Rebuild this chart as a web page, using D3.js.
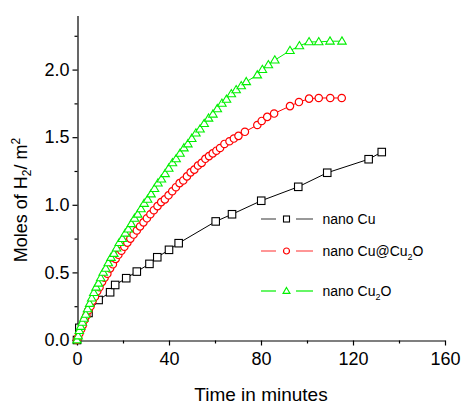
<!DOCTYPE html>
<html>
<head>
<meta charset="utf-8">
<script src="https://cdn.jsdelivr.net/npm/d3@7"></script>
<style>
  body { margin: 0; background: #fff; }
  svg { display: block; font-family: Arial, "Liberation Sans", sans-serif; }
</style>
</head>
<body>
<div id="body"></div>
<script>
// nano Cu (black squares)
var cuTime  = [0, 1, 5, 9.4, 14.4, 16.6, 21.4, 26, 31.5, 34.9, 40, 44.2, 60.3, 67.4, 80.1, 96.2, 108.8, 126.8, 132.5];
var cuMoles = [0, 0.09, 0.2, 0.296, 0.353, 0.407, 0.457, 0.506, 0.563, 0.612, 0.667, 0.716, 0.877, 0.93, 1.03, 1.133, 1.237, 1.337, 1.39];

// nano Cu@Cu2O (red circles)
var coreTime  = [0, 0.5, 1.1, 1.8, 2.5, 3.3, 4.1, 5, 5.9, 6.8, 7.8, 8.8, 9.8, 10.9, 12, 13.2, 14.4, 15.6, 16.8, 18,
  19.3, 20.6, 21.9, 23.2, 24.6, 26, 27.4, 28.9, 30.4, 31.9, 33.4, 35, 36.6, 38.2, 39.8, 41.4, 43, 44.6, 46.2, 47.8,
  49.4, 51, 52.6, 54.2, 55.8, 57.4, 59, 60.6, 62.2, 64.1, 66.3, 68.2, 70.2, 73, 78.4, 80.3, 82.7, 85.7, 92.6, 96.5,
  100.9, 105.1, 110.1, 115.1];
var coreMoles = [0, 0.02, 0.05, 0.08, 0.11, 0.15, 0.18, 0.22, 0.25, 0.29, 0.32, 0.36, 0.39, 0.43, 0.46, 0.49, 0.53, 0.56, 0.6, 0.63,
  0.66, 0.69, 0.72, 0.75, 0.78, 0.81, 0.84, 0.87, 0.9, 0.93, 0.96, 0.99, 1.02, 1.04, 1.07, 1.1, 1.13, 1.16, 1.18, 1.21,
  1.24, 1.26, 1.29, 1.31, 1.34, 1.36, 1.38, 1.4, 1.42, 1.45, 1.47, 1.49, 1.51, 1.54, 1.59, 1.62, 1.65, 1.675, 1.73, 1.76,
  1.785, 1.79, 1.79, 1.79];

// nano Cu2O (green triangles)
var oxTime  = [0, 0.5, 1, 1.6, 2.3, 3, 3.8, 4.6, 5.5, 6.4, 7.3, 8.3, 9.3, 10.3, 11.4, 12.5, 13.6, 14.8, 16, 17.2,
  18.4, 19.7, 21, 22.3, 23.6, 25, 26.4, 27.8, 29.2, 30.7, 32.2, 33.7, 35.2, 36.7, 38.3, 39.9, 41.5, 43.1, 44.8, 46.5,
  48.2, 49.9, 51.7, 53.5, 55.3, 57.2, 59.1, 61, 63, 65, 67.1, 69.2, 71.4, 73.6, 78.4, 80.6, 83.2, 86, 92.6, 96.7,
  100.9, 105.1, 110, 115.2];
var oxMoles = [0, 0.03, 0.07, 0.1, 0.13, 0.16, 0.19, 0.23, 0.27, 0.31, 0.35, 0.39, 0.42, 0.46, 0.5, 0.53, 0.57, 0.61, 0.64, 0.68,
  0.72, 0.75, 0.79, 0.82, 0.86, 0.9, 0.93, 0.97, 1.01, 1.04, 1.08, 1.12, 1.16, 1.19, 1.23, 1.27, 1.31, 1.34, 1.38, 1.42,
  1.45, 1.49, 1.53, 1.56, 1.6, 1.64, 1.67, 1.71, 1.75, 1.78, 1.82, 1.85, 1.88, 1.91, 1.96, 2, 2.035, 2.07, 2.14, 2.175,
  2.205, 2.205, 2.21, 2.21];

var xTicks = [0, 40, 80, 120, 160];
var xMinor = [20, 60, 100, 140];
var yTicks = [0, 0.5, 1.0, 1.5, 2.0];
var yMinor = [0.25, 0.75, 1.25, 1.75, 2.25];

var width = 462, height = 406;
var svg = d3.select("#body").append("svg")
    .attr("width", width).attr("height", height);

var xScale = d3.scaleLinear().domain([0, 160]).range([77, 445]);
var yScale = d3.scaleLinear().domain([0, 2.4]).range([340, 15.5]);

function pts(t, m){
  return t.map(function(d, i){ return {x: d, y: m[i]}; });
}
var series = [
  {name: "cu",   data: pts(cuTime, cuMoles),     color: "#000000", shape: "square"},
  {name: "core", data: pts(coreTime, coreMoles), color: "#ff0000", shape: "circle"},
  {name: "ox",   data: pts(oxTime, oxMoles),     color: "#00f000", shape: "triangle"}
];

// axes
var xAxis = svg.append("g").attr("transform", "translate(0,340.5)")
    .call(d3.axisBottom(xScale).tickValues(xTicks).tickSize(5).tickSizeOuter(0).tickFormat(d3.format("d")));
svg.append("g").attr("transform", "translate(0,340.5)")
    .call(d3.axisBottom(xScale).tickValues(xMinor).tickSize(3).tickSizeOuter(0).tickFormat(""))
    .select(".domain").remove();
var yAxis = svg.append("g").attr("transform", "translate(77.5,0)")
    .call(d3.axisLeft(yScale).tickValues(yTicks).tickSize(5).tickSizeOuter(0).tickFormat(d3.format(".1f")));
svg.append("g").attr("transform", "translate(77.5,0)")
    .call(d3.axisLeft(yScale).tickValues(yMinor).tickSize(3).tickSizeOuter(0).tickFormat(""))
    .select(".domain").remove();

svg.selectAll(".domain").attr("stroke", "#000").attr("stroke-width", 1.2);
svg.selectAll(".tick line").attr("stroke", "#000").attr("stroke-width", 1.2);
xAxis.selectAll("text").attr("font-size", 18).attr("font-family", "Arial, 'Liberation Sans'")
    .attr("fill", "#000").attr("y", 12);
yAxis.selectAll("text").attr("font-size", 18).attr("font-family", "Arial, 'Liberation Sans'")
    .attr("fill", "#000").attr("x", -8);

// axis titles
svg.append("text").attr("x", 261).attr("y", 401).attr("text-anchor", "middle")
    .attr("font-size", 19).text("Time in minutes");
var yt = svg.append("text").attr("transform", "translate(27,200) rotate(-90)")
    .attr("text-anchor", "middle").attr("font-size", 18);
yt.append("tspan").text("Moles of H");
yt.append("tspan").attr("font-size", 12).attr("dy", 4).text("2");
yt.append("tspan").attr("dy", -4).text("/ m");
yt.append("tspan").attr("font-size", 12).attr("dy", -7).text("2");

// marker drawing
function marker(g, shape, color, size){
  if(shape == "square"){
    g.append("rect").attr("x", -size/2).attr("y", -size/2).attr("width", size).attr("height", size)
      .attr("fill", "#fff").attr("stroke", color).attr("stroke-width", 1.1);
  } else if(shape == "circle"){
    g.append("circle").attr("r", size/2)
      .attr("fill", "#fff").attr("stroke", color).attr("stroke-width", 1.2);
  } else {
    var h = size*0.85;
    g.append("path").attr("d", "M0," + (-h*0.6) + "L" + (size/2) + "," + (h*0.4) + "L" + (-size/2) + "," + (h*0.4) + "Z")
      .attr("fill", "#fff").attr("stroke", color).attr("stroke-width", 1.1);
  }
}

var line = d3.line().x(function(d){ return xScale(d.x); }).y(function(d){ return yScale(d.y); });
series.forEach(function(s){
  svg.append("path").attr("d", line(s.data)).attr("fill", "none")
    .attr("stroke", s.color).attr("stroke-width", 1);
  var sizes = {square: 7.5, circle: 7.4, triangle: 8.5};
  svg.selectAll(".m-" + s.name).data(s.data).enter().append("g")
    .attr("class", "m-" + s.name)
    .attr("transform", function(d){ return "translate(" + xScale(d.x) + "," + yScale(d.y) + ")"; })
    .each(function(){ marker(d3.select(this), s.shape, s.color, sizes[s.shape]); });
});

// legend
var legendRows = [
  {y: 219, label: ["nano Cu"], color: "#000", line: "#555", shape: "square", size: 6},
  {y: 251, label: ["nano Cu@Cu", "2", "O"], color: "#ff0000", line: "#ff5050", shape: "circle", size: 6},
  {y: 291, label: ["nano Cu", "2", "O"], color: "#00f000", line: "#00f000", shape: "triangle", size: 7}
];
legendRows.forEach(function(r){
  var g = svg.append("g").attr("transform", "translate(0," + r.y + ")");
  g.append("line").attr("x1", 261).attr("x2", 276).attr("stroke", r.line).attr("stroke-width", 1.2);
  g.append("line").attr("x1", 296).attr("x2", 313).attr("stroke", r.line).attr("stroke-width", 1.2);
  var m = g.append("g").attr("transform", "translate(286.5,0)");
  marker(m, r.shape, r.color, r.size);
  var t = g.append("text").attr("x", 322.5).attr("y", 5).attr("font-size", 14).attr("fill", "#000");
  t.append("tspan").text(r.label[0]);
  if(r.label.length > 1){
    t.append("tspan").attr("font-size", 9).attr("dy", 4).text(r.label[1]);
    t.append("tspan").attr("dy", -4).text(r.label[2]);
  }
});
</script>
</body>
</html>
